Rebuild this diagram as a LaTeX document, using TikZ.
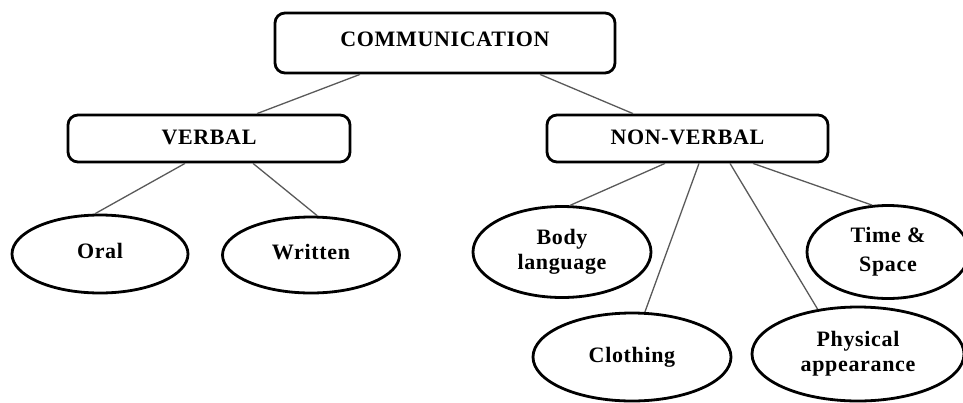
\documentclass[tikz,border=0pt]{standalone}
\usepackage{fontspec}
\setmainfont{Liberation Serif}[LetterSpace=3]
\usetikzlibrary{calc,shapes.geometric}
\begin{document}
\begin{tikzpicture}[x=0.5pt,y=-0.5pt,line join=round,
  font=\fontsize{11}{12.5}\selectfont\bfseries,
  headbox/.style={draw,line width=1.4pt,rounded corners=5pt,inner sep=0pt},
  leaf/.style={draw,ellipse,line width=1.4pt,inner sep=0pt,align=center},
  link/.style={draw=black!65,line width=0.65pt}]
\useasboundingbox (0,0) rectangle (963,402);
\clip (0,0) rectangle (963,402);
\node[headbox,minimum width=170pt,minimum height=30pt] (comm) at (445,43) {\raisebox{4pt}{COMMUNICATION}};
\node[headbox,minimum width=141pt,minimum height=23.5pt] (verbal) at (209,138.5) {\raisebox{1.5pt}{VERBAL}};
\node[headbox,minimum width=140.5pt,minimum height=23.5pt] (nonverbal) at (687.5,138.5) {\raisebox{1pt}{NON-VERBAL}};
\node[leaf,minimum width=88pt,minimum height=39pt] (oral) at (100,254) {\raisebox{3.5pt}{Oral}};
\node[leaf,minimum width=88.5pt,minimum height=38pt] (written) at (311,255) {\raisebox{3.5pt}{Written}};
\node[leaf,minimum width=89pt,minimum height=45.5pt] (body) at (562,252) {Body\\language};
\node[leaf,minimum width=99pt,minimum height=44pt] (clothing) at (632,357) {\raisebox{2.5pt}{Clothing}};
\node[leaf,minimum width=106pt,minimum height=47pt] (physical) at (858,354) {Physical\\appearance};
\node[leaf,minimum width=81pt,minimum height=46.5pt] (time) at (888,252) {Time \&\\[2pt]Space};
\draw[link] ($(comm.south)+(-85,0)$) -- ($(verbal.north)+(48,0)$);
\draw[link] ($(comm.south)+(95,0)$) -- ($(nonverbal.north)+(-54.5,0)$);
\draw[link] ($(verbal.south)+(-24,0)$) -- (oral.97);
\draw[link] ($(verbal.south)+(44,0)$) -- (written.81);
\draw[link] ($(nonverbal.south)+(-22.5,0)$) -- (body.80);
\draw[link] ($(nonverbal.south)+(11.5,0)$) -- (clothing.74);
\draw[link] ($(nonverbal.south)+(42.5,0)$) -- (physical.132);
\draw[link] ($(nonverbal.south)+(65.5,0)$) -- (time.109);
\end{tikzpicture}
\end{document}
